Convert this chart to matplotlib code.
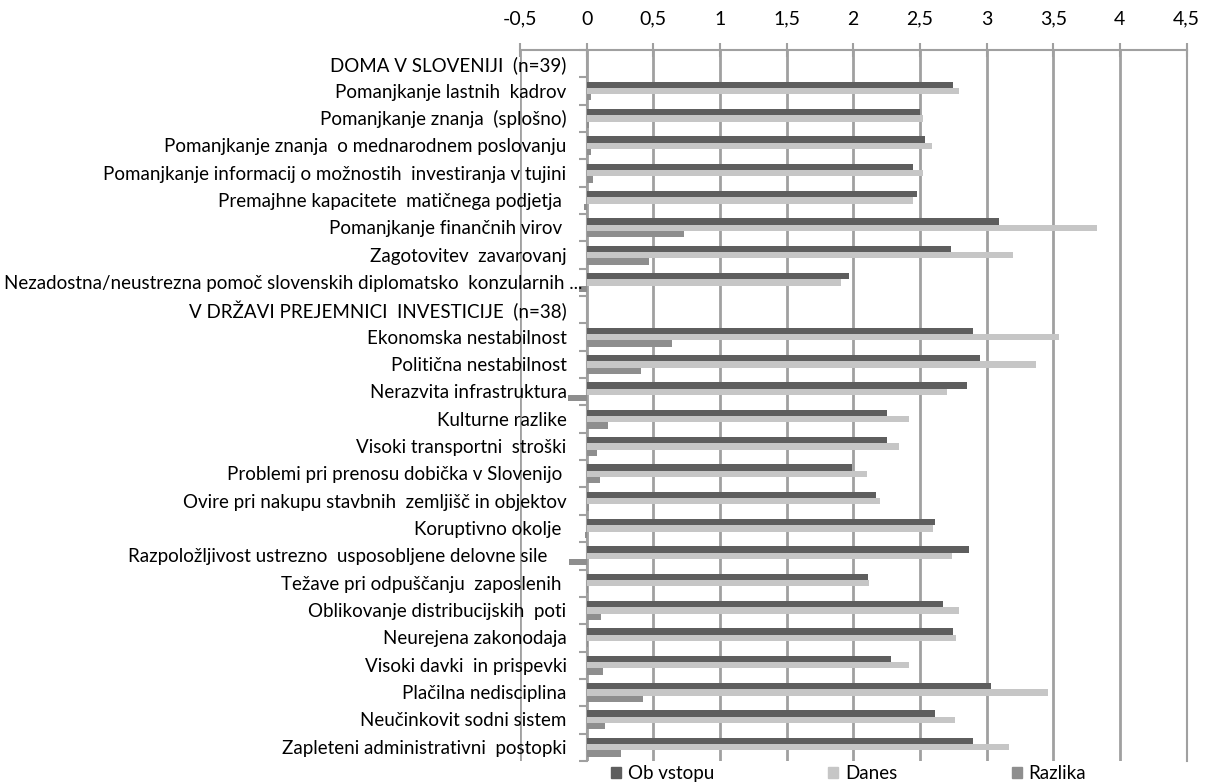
import numpy as np
import matplotlib.pyplot as plt
from matplotlib.patches import Patch
from matplotlib.ticker import FixedLocator, FuncFormatter, NullFormatter
from matplotlib.transforms import offset_copy

categories = [
    "DOMA V SLOVENIJI  (n=39)",
    "Pomanjkanje lastnih  kadrov",
    "Pomanjkanje znanja  (splošno)",
    "Pomanjkanje znanja  o mednarodnem poslovanju",
    "Pomanjkanje informacij o možnostih  investiranja v tujini",
    "Premajhne kapacitete  matičnega podjetja ",
    "Pomanjkanje finančnih virov ",
    "Zagotovitev  zavarovanj",
    "Nezadostna/neustrezna pomoč slovenskih diplomatsko  konzularnih ...",
    "V DRŽAVI PREJEMNICI  INVESTICIJE  (n=38)",
    "Ekonomska nestabilnost",
    "Politična nestabilnost",
    "Nerazvita infrastruktura",
    "Kulturne razlike",
    "Visoki transportni  stroški",
    "Problemi pri prenosu dobička v Slovenijo ",
    "Ovire pri nakupu stavbnih  zemljišč in objektov",
    "Koruptivno okolje ",
    "Razpoložljivost ustrezno  usposobljene delovne sile    ",
    "Težave pri odpuščanju  zaposlenih ",
    "Oblikovanje distribucijskih  poti",
    "Neurejena zakonodaja",
    "Visoki davki  in prispevki",
    "Plačilna nedisciplina",
    "Neučinkovit sodni sistem",
    "Zapleteni administrativni  postopki",
]

# section header rows (0 and 9) carry no values
ob_vstopu = [np.nan, 2.75, 2.50, 2.54, 2.45, 2.48, 3.09, 2.73, 1.97,
             np.nan, 2.90, 2.95, 2.85, 2.25, 2.25, 1.99, 2.17, 2.61,
             2.87, 2.11, 2.67, 2.75, 2.28, 3.03, 2.61, 2.90]
danes = [np.nan, 2.79, 2.52, 2.59, 2.52, 2.45, 3.83, 3.20, 1.91,
         np.nan, 3.54, 3.37, 2.70, 2.42, 2.34, 2.10, 2.20, 2.60,
         2.74, 2.12, 2.79, 2.77, 2.42, 3.46, 2.76, 3.17]
razlika = [np.nan, 0.03, 0.02, 0.03, 0.05, -0.02, 0.73, 0.47, -0.06,
           np.nan, 0.64, 0.41, -0.14, 0.16, 0.08, 0.10, 0.02, -0.01,
           -0.13, 0.01, 0.11, 0.01, 0.12, 0.42, 0.14, 0.26]

series = ["Ob vstopu", "Danes", "Razlika"]
colors = ["#5e5e5e", "#c6c6c6", "#8e8e8e"]
grid_c = "#a0a0a0"
fs = 13.5

plt.rcParams['font.family'] = ['Lato', 'DejaVu Sans']

fig = plt.figure(figsize=(12.12, 7.82), dpi=100)
ax = fig.add_axes([0.429, 0.027, 0.55, 0.909])

y = np.arange(len(categories))
h = 0.23
for k, vals in enumerate([ob_vstopu, danes, razlika]):
    ax.barh(y + (k - 1) * h, vals, height=h, color=colors[k], zorder=3)

ax.set_xlim(-0.5, 4.5)
ax.set_ylim(len(categories) - 0.5, -0.5)

# value axis on top, decimal comma
ax.xaxis.tick_top()
ax.set_xticks(np.arange(-0.5, 4.51, 0.5))
ax.xaxis.set_major_formatter(FuncFormatter(lambda v, p: f'{v:g}'.replace('.', ',')))
ax.tick_params(axis='x', direction='inout', length=10, width=1.5, color=grid_c,
               labelcolor='black', labelsize=14, pad=11)
ax.grid(axis='x', color=grid_c, linewidth=2, zorder=0)
ax.set_axisbelow(True)

ax.spines['bottom'].set_visible(False)
for s in ['top', 'right', 'left']:
    ax.spines[s].set_color(grid_c)
    ax.spines[s].set_linewidth(1.5)
ax.spines['left'].set_position(('data', 0))

# category axis sits at x=0 with tick marks between rows
ax.yaxis.set_major_locator(FixedLocator(np.arange(-0.5, len(categories), 1)))
ax.yaxis.set_major_formatter(NullFormatter())
ax.tick_params(axis='y', which='major', direction='out', length=6, width=1.5, color=grid_c)

# category names, right-aligned just left of the axis
for i, lab in enumerate(categories):
    dx = -4 if lab.endswith('...') else -20
    tr = offset_copy(ax.transData, fig=fig, x=dx, y=-1, units='dots')
    ax.text(0, i, lab, transform=tr, ha='right', va='center', fontsize=fs, zorder=4)

handles = [Patch(color=c) for c in colors]
fig.legend(handles, series, loc='center', bbox_to_anchor=(0.70, 0.011), ncol=3,
           frameon=False, columnspacing=6.1, handlelength=0.55, handleheight=0.55,
           handletextpad=0.35, fontsize=fs)

fig.savefig('out.png', dpi=100)
